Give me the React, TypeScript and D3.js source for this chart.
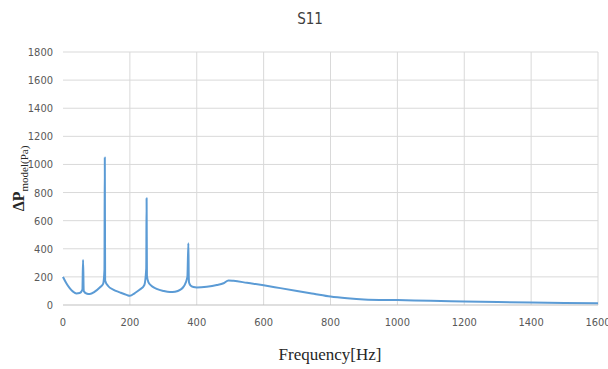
import { useEffect, useRef } from "react";
import * as d3 from "d3";

const title = "S11";
const xLabel = "Frequency[Hz]";
const xTicks = [0, 200, 400, 600, 800, 1000, 1200, 1400, 1600];
const yTicks = [0, 200, 400, 600, 800, 1000, 1200, 1400, 1600, 1800];

const freq = [
  0, 10, 20, 30, 40, 50, 58, 60, 62, 70, 80, 95, 110, 120, 124, 125, 126, 135, 150, 170, 190, 200, 215, 230,
  243, 249, 250, 251, 255, 265, 280, 300, 320, 335, 350, 362, 372, 375, 376, 377, 381, 390, 400, 430, 460,
  480, 495, 510, 550, 600, 650, 700, 750, 800, 850, 900, 1000, 1100, 1200, 1300, 1400, 1500, 1600,
];
const pressure = [
  200, 155, 120, 95, 82, 85, 110, 320, 100, 82, 78, 95, 125, 150, 250, 1050, 175, 135, 110, 90, 72, 65,
  85, 110, 140, 260, 760, 210, 165, 135, 115, 100, 92, 95, 108, 135, 200, 440, 210, 160, 140, 128, 125,
  130, 142, 155, 175, 172, 158, 140, 120, 100, 80, 60, 48, 40, 35, 30, 25, 21, 18, 15, 12,
];

export default function App() {
  const svgRef = useRef<SVGSVGElement>(null);
  const width = 608,
    height = 369,
    margin = { left: 63, top: 52, right: 10, bottom: 64 };

  useEffect(() => {
    const svg = d3.select(svgRef.current);
    svg.selectAll("*").remove();
    const w = width - margin.left - margin.right;
    const h = height - margin.top - margin.bottom;
    const main = svg.append("g").attr("transform", `translate(${margin.left}, ${margin.top})`);

    const xScale = d3.scaleLinear().domain([0, 1600]).range([0, 535]);
    const yScale = d3.scaleLinear().domain([0, 1800]).range([h, 0]);

    // grid
    main
      .append("g")
      .selectAll("line.h")
      .data(yTicks.slice(1))
      .join("line")
      .attr("x1", 0)
      .attr("x2", xScale(1600))
      .attr("y1", (d) => yScale(d))
      .attr("y2", (d) => yScale(d))
      .attr("stroke", "#d9d9d9")
      .attr("stroke-width", 1);
    main
      .append("g")
      .selectAll("line.v")
      .data(xTicks.slice(1))
      .join("line")
      .attr("x1", (d) => xScale(d))
      .attr("x2", (d) => xScale(d))
      .attr("y1", 0)
      .attr("y2", h)
      .attr("stroke", "#d9d9d9")
      .attr("stroke-width", 1);

    // axis base line
    main
      .append("line")
      .attr("x1", 0)
      .attr("x2", xScale(1600))
      .attr("y1", h)
      .attr("y2", h)
      .attr("stroke", "#bfbfbf")
      .attr("stroke-width", 1.2);

    const tickFont = "'Liberation Sans Narrow', 'Arial Narrow', 'DejaVu Sans Condensed', sans-serif";
    main
      .append("g")
      .selectAll("text")
      .data(xTicks)
      .join("text")
      .attr("x", (d) => xScale(d))
      .attr("y", h + 21)
      .attr("text-anchor", "middle")
      .attr("font-family", tickFont)
      .attr("font-size", 11)
      .attr("fill", "#595959")
      .text((d) => d);
    main
      .append("g")
      .selectAll("text")
      .data(yTicks)
      .join("text")
      .attr("x", -10)
      .attr("y", (d) => yScale(d) + 4)
      .attr("text-anchor", "end")
      .attr("font-family", tickFont)
      .attr("font-size", 11)
      .attr("fill", "#595959")
      .text((d) => d);

    const points = freq.map((f, i) => [f, pressure[i]] as [number, number]);
    const line = d3
      .line<[number, number]>()
      .x((d) => xScale(d[0]))
      .y((d) => yScale(d[1]))
      .curve(d3.curveMonotoneX);
    main
      .append("path")
      .datum(points)
      .attr("fill", "none")
      .attr("stroke", "#5b9bd5")
      .attr("stroke-width", 2)
      .attr("stroke-linejoin", "round")
      .attr("d", line);

    // title
    svg
      .append("text")
      .attr("x", 310)
      .attr("y", 24)
      .attr("text-anchor", "middle")
      .attr("font-family", tickFont)
      .attr("font-size", 15)
      .attr("fill", "#404040")
      .text(title);

    // x label
    svg
      .append("text")
      .attr("x", 330)
      .attr("y", 360)
      .attr("text-anchor", "middle")
      .attr("font-family", "'Liberation Serif', 'Times New Roman', serif")
      .attr("font-size", 17)
      .attr("fill", "#262626")
      .text(xLabel);

    // y label
    const yl = svg
      .append("text")
      .attr("transform", `translate(24, ${margin.top + h / 2}) rotate(-90)`)
      .attr("text-anchor", "middle")
      .attr("font-family", "'Liberation Serif', 'Times New Roman', serif")
      .attr("fill", "#262626");
    yl.append("tspan").attr("font-size", 16).attr("font-weight", "bold").text("ΔP");
    yl.append("tspan").attr("font-size", 11).attr("dy", 4).text("model(Pa)");
  }, []);

  return (
    <svg
      ref={svgRef}
      width={width}
      height={height}
      viewBox={`0 0 ${width} ${height}`}
      style={{ position: "absolute", left: 0, top: 0, background: "#fff" }}
    />
  );
}
